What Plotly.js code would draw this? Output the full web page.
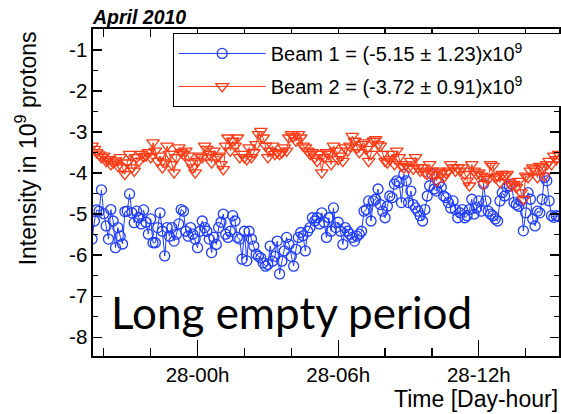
<!DOCTYPE html>
<html><head><meta charset="utf-8">
<script src="https://cdn.plot.ly/plotly-3.0.1.min.js"></script>
<style>html,body{margin:0;padding:0;background:#fff}</style>
</head><body><div id="chart" style="width:561px;height:414px"></div>
<script>
// time in hours relative to 28 April 00:00
const hours = [-4.5,-4.4,-4.3,-4.2,-4.1,-4.0,-3.9,-3.8,-3.7,-3.6,-3.5,-3.4,-3.3,-3.2,-3.1,-3.0,-2.9,-2.8,-2.7,-2.6,-2.5,-2.4,-2.3,-2.2,-2.1,-2.0,-1.9,-1.8,-1.7,-1.6,-1.5,-1.4,-1.3,-1.2,-1.1,-1.0,-0.9,-0.8,-0.7,-0.6,-0.5,-0.4,-0.3,-0.2,-0.1,0.0,
0.1,0.2,0.3,0.4,0.5,0.6,0.7,0.8,0.9,1.0,1.1,1.2,1.3,1.4,1.5,1.6,1.7,1.8,1.9,2.0,2.1,2.2,2.3,2.4,2.5,2.6,2.7,2.8,2.9,3.0,
3.1,3.2,3.3,3.4,3.5,3.6,3.7,3.8,3.9,4.0,4.1,4.2,4.3,4.4,4.5,4.6,4.7,4.8,4.9,5.0,5.1,5.2,5.3,5.4,5.5,5.6,5.7,5.8,5.9,6.0,
6.1,6.2,6.3,6.4,6.5,6.6,6.7,6.8,6.9,7.0,7.1,7.2,7.3,7.4,7.5,7.6,7.7,7.8,7.9,8.0,8.1,8.2,8.3,8.4,8.5,8.6,8.7,8.8,8.9,9.0,
9.1,9.2,9.3,9.4,9.5,9.6,9.7,9.8,9.9,10.0,10.1,10.2,10.3,10.4,10.5,10.6,10.7,10.8,10.9,11.0,11.1,11.2,11.3,11.4,11.5,11.6,11.7,11.8,11.9,12.0,
12.1,12.2,12.3,12.4,12.5,12.6,12.7,12.8,12.9,13.0,13.1,13.2,13.3,13.4,13.5,13.6,13.7,13.8,13.9,14.0,14.1,14.2,14.3,14.4,14.5,14.6,14.7,14.8,14.9,15.0,
15.1,15.2,15.3,15.4];

const beam1 = [-5.61,-5.17,-4.9,-4.93,-4.41,-4.99,-5.29,-5.61,-4.89,-5.17,-5.82,-5.33,-5.54,-5.73,-4.94,-4.93,-4.51,-4.97,-5.21,-4.93,-5.09,-5.24,-4.9,-5.2,-5.49,-5.12,-5.7,-5.7,-5.33,-4.97,-5.42,-6.02,
-5.33,-5.54,-5.33,-5.66,-5.49,-5.24,-4.89,-4.93,-5.42,-5.54,-5.33,-5.49,-5.61,-5.82,-5.42,-5.17,-5.33,-5.42,-5.61,-5.94,-5.57,-5.74,-5.33,-5.2,-5.0,-5.49,-5.57,-5.42,-5.04,-5.17,-5.57,-5.61,-6.1,-5.42,
-6.14,-5.42,-5.61,-5.78,-5.98,-6.03,-6.07,-6.19,-6.27,-6.23,-5.78,-6.15,-6.03,-5.66,-6.46,-6.15,-5.9,-5.57,-5.74,-6.03,-6.27,-5.86,-5.57,-5.45,-5.53,-5.9,-5.42,-5.33,-5.09,-5.17,-5.09,-5.24,-4.97,
-5.2,-5.57,-5.09,-5.42,-4.85,-5.33,-5.2,-5.42,-5.74,-5.33,-5.42,-5.49,-5.57,-5.66,-5.54,-5.49,-5.42,-4.93,-4.89,-4.68,-5.17,-4.68,-4.64,-4.39,-4.77,-4.93,-5.09,-4.81,-4.56,-4.6,-4.27,-4.19,-4.23,-4.72,-4.03,
-4.19,-4.72,-4.44,-4.77,-4.85,-4.93,-5.04,-5.17,-4.89,-4.56,-4.31,-4.03,-4.39,-4.44,-4.23,-4.35,-4.56,-4.6,-4.72,-4.85,-4.68,-4.89,-5.09,-4.97,-4.89,-5.09,-5.04,-4.89,-4.64,-5.0,-4.85,-4.68,-4.93,-4.27,
-4.68,-4.93,-5.0,-5.04,-5.12,-5.17,-4.68,-4.48,-4.56,-4.35,-4.31,-4.27,-4.72,-4.77,-4.81,-4.68,-5.41,-4.97,-4.48,-4.64,-5.12,-5.29,-4.93,-4.97,-4.64,-4.11,-4.19,-4.68,-5.04,-5.08,-5.04,-5.06];

const beam2 = [-3.34,-3.42,-3.5,-3.55,-3.62,-3.58,-3.71,-3.67,-3.79,-3.75,-3.7,-3.83,-3.62,-3.87,-4.03,-3.75,-3.54,-3.87,-3.95,-3.62,-3.71,-3.54,-3.6,-3.58,-3.5,-3.62,-3.26,-3.46,-3.71,-3.58,-3.87,-3.75,-3.34,-3.54,-3.79,
-3.99,-3.62,-3.38,-3.5,-3.54,-3.46,-3.58,-3.75,-3.87,-3.99,-3.71,-3.58,-3.62,-3.34,-3.42,-3.54,-3.75,-3.46,-3.62,-3.58,-3.79,-3.91,-3.34,-3.14,-3.46,-3.22,-3.34,-3.14,-3.62,-3.54,-3.62,-3.67,-3.38,
-3.62,-3.5,-3.3,-3.06,-2.98,-3.14,-3.34,-3.62,-3.46,-3.34,-3.54,-3.5,-3.54,-3.5,-3.38,-3.46,-3.14,-3.06,-3.1,-3.22,-3.06,-3.14,-3.34,-3.38,-3.46,-3.54,-3.5,-3.62,-3.71,-3.54,-3.99,-3.62,-3.5,
-3.54,-3.79,-3.34,-3.46,-3.67,-3.58,-3.71,-3.38,-3.46,-3.34,-3.1,-3.22,-3.38,-3.5,-3.3,-3.26,-3.42,-3.71,-3.54,-3.22,-3.18,-3.3,-3.34,-3.54,-3.71,-3.75,-3.67,-3.54,-3.79,-3.46,-3.62,-3.83,
-3.87,-3.79,-3.87,-3.71,-3.9,-3.62,-3.87,-3.95,-3.87,-3.99,-4.03,-3.79,-3.95,-4.03,-4.19,-3.95,-3.99,-4.11,-4.0,-3.95,-3.79,-3.87,-3.95,-3.87,-3.95,-3.87,-4.03,-4.19,-4.31,-3.79,-3.95,-4.03,-3.99,-4.07,-4.27,
-4.11,-4.15,-3.79,-3.83,-4.11,-4.07,-4.23,-4.03,-4.07,-4.03,-4.23,-4.31,-4.27,-4.35,-4.2,-4.48,-4.64,-4.07,-4.11,-3.95,-3.87,-3.9,-4.11,-3.83,-3.87,-4.07,-3.79,-3.71,-3.79,-3.58,-3.67,-3.54];

const xTickVals = [0, 6, 12];
const xTickText = ['28-00h', '28-06h', '28-12h'];
const yTickVals = [-1, -2, -3, -4, -5, -6, -7, -8];
const yTickText = ['-1', '-2', '-3', '-4', '-5', '-6', '-7', '-8'];
const pad = '\u00a0\u00a0\u00a0\u00a0\u00a0\u00a0';
const beam1Label = 'Beam 1 = (-5.15 ± 1.23)x10<sup>9</sup>' + pad;
const beam2Label = 'Beam 2 = (-3.72 ± 0.91)x10<sup>9</sup>' + pad;

const blue = '#1f3dff';
const red = '#ff3a14';

const traces = [
  {x: hours, y: beam1, name: beam1Label, type: 'scatter', mode: 'lines+markers', legendgroup: 'b1',
   line: {color: blue, width: 1},
   marker: {symbol: 'circle-open', size: 10, color: blue, line: {width: 1.3, color: blue}}},
  {x: hours, y: beam2, name: beam2Label, type: 'scatter', mode: 'lines+markers', legendgroup: 'b2',
   line: {color: red, width: 1},
   marker: {symbol: 'triangle-down-open', size: 11, color: red, line: {width: 1.3, color: red}}}
];

const FONT = 'Liberation Sans, Arial, Helvetica, sans-serif';
const axisCommon = {
  showline: true, linecolor: '#000', linewidth: 1.6, mirror: 'ticks',
  ticks: 'inside', tickcolor: '#000', tickwidth: 1.2,
  showgrid: false, zeroline: false, automargin: false,
  tickfont: {family: FONT, size: 20.5, color: '#000'}
};

const layout = {
  width: 561, height: 414,
  margin: {l: 93, r: 2, t: 29, b: 58, autoexpand: false},
  paper_bgcolor: '#fff', plot_bgcolor: '#fff',
  font: {family: FONT, color: '#000'},
  showlegend: true,
  xaxis: Object.assign({}, axisCommon, {
    range: [-4.46, 15.42], tickmode: 'array', tickvals: xTickVals, ticktext: xTickText, ticklen: 16,
    minor: {tickmode: 'linear', tick0: 0, dtick: 2, ticklen: 8, ticks: 'inside', tickcolor: '#000', tickwidth: 1.2, showgrid: false}
  }),
  yaxis: Object.assign({}, axisCommon, {
    range: [-8.46, -0.49], tickmode: 'array', tickvals: yTickVals, ticktext: yTickText, ticklen: 9,
    minor: {tickmode: 'linear', tick0: 0, dtick: 0.5, ticklen: 5, ticks: 'inside', tickcolor: '#000', tickwidth: 1.2, showgrid: false}
  }),
  legend: {
    x: 0.171, y: 0.988, xanchor: 'left', yanchor: 'top',
    bgcolor: '#fff', bordercolor: '#000', borderwidth: 1,
    font: {family: FONT, size: 20, color: '#000'},
    tracegroupgap: 4, itemwidth: 87
  },
  annotations: [
    {text: '<b><i>April 2010</i></b>', xref: 'paper', yref: 'paper', x: 0, y: 1, xanchor: 'left', yanchor: 'bottom',
     xshift: -3, yshift: -1, showarrow: false, font: {family: FONT, size: 19.5, color: '#000'}},
    {text: 'Intensity in 10<sup>9</sup> protons', xref: 'paper', yref: 'paper', x: -0.143, y: 1.0,
     xanchor: 'center', yanchor: 'top', textangle: -90, showarrow: false, font: {family: FONT, size: 23, color: '#000'}},
    {text: 'Time [Day-hour]', xref: 'paper', yref: 'paper', x: 1, y: -0.131, xanchor: 'right', yanchor: 'middle',
     xshift: 1, showarrow: false, font: {family: FONT, size: 23, color: '#000'}},
    {text: 'Long empty period', xref: 'paper', yref: 'paper', x: 0.034, y: 0.135, xanchor: 'left', yanchor: 'middle',
     showarrow: false, font: {family: 'Lato, sans-serif', size: 44, color: '#000'}}
  ]
};

Plotly.newPlot('chart', traces, layout, {displayModeBar: false, staticPlot: true});
</script>
</body></html>
